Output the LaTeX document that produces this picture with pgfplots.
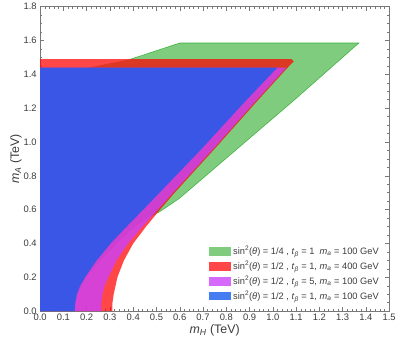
\documentclass[border=0pt]{standalone}
\usepackage{fontspec}
\setmainfont{Liberation Sans}
\usepackage{pgfplots}
\pgfplotsset{compat=1.18}
\definecolor{gbase}{RGB}{0,153,0}
\definecolor{rbase}{RGB}{255,0,0}
\definecolor{mbase}{RGB}{205,66,251}
\definecolor{bbase}{RGB}{20,92,238}
\definecolor{framegray}{RGB}{120,120,120}
\definecolor{ticktext}{RGB}{60,60,60}
\begin{document}
\begin{tikzpicture}
\begin{axis}[
    width=353pt, height=308pt, scale only axis,
    xmin=0, xmax=1.5, ymin=0, ymax=1.8,
    xtick distance=0.1, ytick distance=0.2,
    minor x tick num=4, minor y tick num=3,
    tick align=inside,
    major tick length=4pt, minor tick length=2pt,
    axis line style={framegray, line width=0.6pt},
    tick style={framegray, line width=0.5pt},
    /pgf/number format/assume math mode=true,
    /pgf/number format/.cd, fixed, fixed zerofill, precision=1, /pgfplots/.cd,
    ticklabel style={font=\fontsize{9.5}{11}\selectfont, text=ticktext},
    xticklabel style={yshift=0.5pt},
    yticklabel style={xshift=0pt},
    xlabel={\textit{m}\textsubscript{\textit{H}} (TeV)},
    ylabel={\textit{m}\textsubscript{\textit{A}} (TeV)},
    label style={font=\fontsize{12.5}{14}\selectfont, text=ticktext},
    xlabel style={yshift=3pt},
    ylabel style={yshift=-5pt},
    legend cell align=left,
    legend style={at={(rel axis cs:0.985,0.02)}, anchor=south east,
        draw=none, fill=none, font=\fontsize{9.4}{10.5}\selectfont, text=ticktext,
        row sep=1.2pt},
    legend image code/.code={\fill[#1] (0pt,-4.5pt) rectangle (22pt,4.5pt);},
]
% green: sin^2 = 1/4, t = 1, m_a = 100
\addplot[fill=gbase, fill opacity=0.5, draw=none] coordinates {
    (0,0) (0.14,0) (0.16,0.1) (0.2,0.2) (0.26,0.3) (0.33,0.4) (0.41,0.5)
    (0.465,0.55) (0.505,0.58) (0.54,0.612) (0.598,0.666) (0.846,0.958) (1.094,1.25) (1.37,1.585)
    (0.6,1.585) (0.39,1.49) (0.21,1.44) (0,1.44)
} -- cycle;
\addlegendentry{sin\textsuperscript{2}(\textit{θ}) = 1/4 , \textit{t}\textsubscript{\textit{β}} = 1\ \ \textit{m}\textsubscript{\textit{a}} = 100 GeV}
\addplot[forget plot, draw=gbase, draw opacity=0.6, line width=0.6pt] coordinates {
    (0.505,0.58) (0.54,0.612) (0.598,0.666) (0.846,0.958) (1.094,1.25) (1.37,1.585) (0.6,1.585) (0.39,1.49)
};
% red: sin^2 = 1/2, t = 1, m_a = 400
\addplot[fill=rbase, fill opacity=0.72, draw=none] coordinates {
    (0,0) (0.31,0) (0.311,0.05) (0.316,0.1) (0.332,0.2) (0.36,0.3) (0.40,0.4)
    (0.455,0.5) (0.515,0.6) (0.578,0.7) (0.749,0.958) (0.938,1.25) (1.064,1.44)
    (1.09,1.476) (1.08,1.49) (0,1.49)
} -- cycle;
\addlegendentry{sin\textsuperscript{2}(\textit{θ}) = 1/2 , \textit{t}\textsubscript{\textit{β}} = 1, \textit{m}\textsubscript{\textit{a}} = 400 GeV}
% magenta: sin^2 = 1/2, t = 5, m_a = 100
\addplot[fill=mbase, fill opacity=0.8, draw=none] coordinates {
    (0,0) (0.263,0) (0.263,0.05) (0.268,0.1) (0.277,0.15) (0.293,0.2) (0.328,0.3)
    (0.378,0.4) (0.44,0.5) (0.506,0.6) (0.571,0.7) (0.743,0.958) (0.932,1.25)
    (1.058,1.44) (0,1.44)
} -- cycle;
\addlegendentry{sin\textsuperscript{2}(\textit{θ}) = 1/2 , \textit{t}\textsubscript{\textit{β}} = 5, \textit{m}\textsubscript{\textit{a}} = 100 GeV}
% blue: sin^2 = 1/2, t = 1, m_a = 100
\addplot[fill=bbase, fill opacity=0.8, draw=none] coordinates {
    (0,0) (0.149,0) (0.151,0.05) (0.158,0.1) (0.172,0.15) (0.193,0.2) (0.243,0.3)
    (0.303,0.4) (0.372,0.5) (0.443,0.6) (0.513,0.7) (0.693,0.958) (0.888,1.25)
    (1.02,1.44) (0,1.44)
} -- cycle;
\addlegendentry{sin\textsuperscript{2}(\textit{θ}) = 1/2 , \textit{t}\textsubscript{\textit{β}} = 1, \textit{m}\textsubscript{\textit{a}} = 100 GeV}
\end{axis}
\path ([xshift=-7pt]current bounding box.west);
\end{tikzpicture}
\end{document}
